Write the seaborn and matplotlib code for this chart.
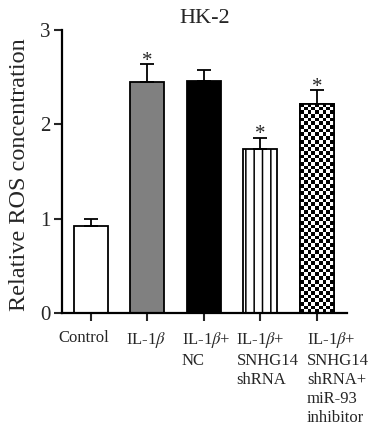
import matplotlib
matplotlib.use("Agg")

import numpy as np
import pandas as pd
import matplotlib.pyplot as plt
import matplotlib.transforms as mtransforms
import seaborn as sns

# Dados
grupos = ["Control", "IL-1$\\beta$", "IL-1$\\beta$+\nNC",
          "IL-1$\\beta$+\nSNHG14\nshRNA",
          "IL-1$\\beta$+\nSNHG14\nshRNA+\nmiR-93\ninhibitor"]
valores = [0.92, 2.45, 2.46, 1.74, 2.22]
erros = [0.08, 0.19, 0.12, 0.12, 0.14]
significativo = [False, True, False, True, True]

cores = ["white", "#808080", "black", "white", "white"]
hachuras = [None, None, None, "||", None]

sns.set_theme(style="ticks")
plt.rcParams["font.family"] = ["Liberation Serif", "DejaVu Serif"]
plt.rcParams["mathtext.fontset"] = "stix"
plt.rcParams["hatch.linewidth"] = 1.1
plt.rcParams["hatch.color"] = "black"

df = pd.DataFrame({"grupo": grupos, "valor": valores})

fig = plt.figure(figsize=(3.68, 4.29), dpi=100)
ax = fig.add_axes([0.168, 0.27, 0.775, 0.66])

sns.barplot(data=df, x="grupo", y="valor", hue="grupo", palette=cores,
            width=0.6, edgecolor="black", linewidth=1.3, errorbar=None,
            legend=False, ax=ax)

barras = list(ax.patches)
for b, h in zip(barras, hachuras):
    if h:
        b.set_hatch(h)

# padrão xadrez na última barra
b = barras[4]
x0, larg, alt = b.get_x(), b.get_width(), b.get_height()
ncol = 9
nlin = int(round(alt / 0.039))
xadrez = (np.add.outer(np.arange(nlin), np.arange(ncol)) % 2).astype(float)
img = ax.imshow(xadrez, cmap="gray", extent=(x0, x0 + larg, 0, alt),
                origin="lower", interpolation="nearest", aspect="auto",
                zorder=b.get_zorder() + 0.1)
img.set_clip_path(b)
ax.add_patch(plt.Rectangle((x0, 0), larg, alt, fill=False,
                           edgecolor="black", linewidth=1.3,
                           zorder=b.get_zorder() + 0.2))

# barras de erro (só para cima)
pos = np.arange(len(valores))
ax.errorbar(pos, valores, yerr=[np.zeros(len(erros)), erros], fmt="none",
            ecolor="black", elinewidth=1.3, capsize=4.7, capthick=1.3,
            zorder=1)

for p, v, e, s in zip(pos, valores, erros, significativo):
    if s:
        ax.text(p, v + e - 0.07, "*", ha="center", va="bottom",
                fontsize=15)

ax.set_xlim(-0.51, 4.53)
ax.set_ylim(0, 3)
ax.set_yticks([0, 1, 2, 3])
ax.set_xlabel("")
ax.set_ylabel("Relative ROS concentration", fontsize=17.5)
ax.yaxis.set_label_coords(-0.11, 0.49)
ax.set_title("HK-2", fontsize=16, pad=5)

ax.tick_params(axis="y", labelsize=15, width=1.5, length=6, pad=2)
ax.tick_params(axis="x", labelsize=12, width=1.5, length=6, pad=6)

deslocs = [-7, -1, 2, 7, 21]
for lab, dx in zip(ax.get_xticklabels(), deslocs):
    lab.set_multialignment("left")
    lab.set_linespacing(1.25)
    lab.set_transform(lab.get_transform() +
                      mtransforms.ScaledTranslation(dx / 100, 0, fig.dpi_scale_trans))

for lado in ["top", "right"]:
    ax.spines[lado].set_visible(False)
for lado in ["left", "bottom"]:
    ax.spines[lado].set_linewidth(1.6)
    ax.spines[lado].set_color("black")

fig.savefig("out.png", dpi=100)
plt.close()
